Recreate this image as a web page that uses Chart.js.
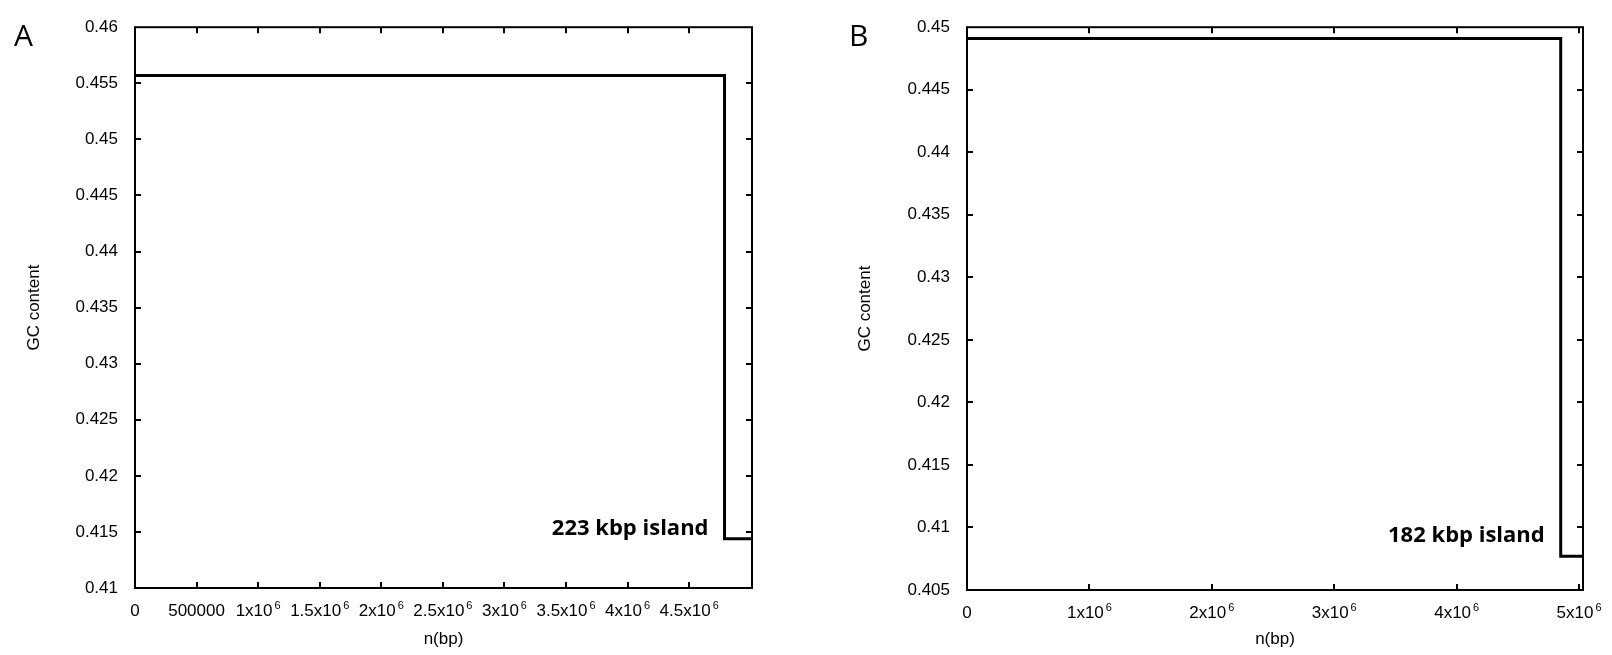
<!DOCTYPE html>
<html>
<head>
<meta charset="utf-8">
<script src="https://cdn.jsdelivr.net/npm/chart.js@4/dist/chart.umd.min.js"></script>
<style>
  body{margin:0;background:#fff;}
  #wrap{position:relative;width:1612px;height:655px;overflow:hidden;}
  canvas{position:absolute;top:0;}
  .panel{position:absolute;font-family:"Open Sans",sans-serif;font-size:30px;color:#000;line-height:1;}
</style>
</head>
<body>
<div id="wrap">
  <canvas id="chartA" width="806" height="655" style="left:0"></canvas>
  <canvas id="chartB" width="806" height="655" style="left:806px"></canvas>
  <div class="panel" style="left:14px;top:20px">A</div>
  <div class="panel" style="left:849px;top:20px">B</div>
</div>
<script>
// panel A - genome position (bp) where each GC level starts, last entry = genome end
const posA = [0, 4787000, 5010000];
const gcA = [0.4557, 0.4144, 0.4144];
const xTicksA = [0, 500000, 1000000, 1500000, 2000000, 2500000, 3000000, 3500000, 4000000, 4500000];
const xLabelsA = ['0', '500000', '1x10^6', '1.5x10^6', '2x10^6', '2.5x10^6', '3x10^6', '3.5x10^6', '4x10^6', '4.5x10^6'];
const yTicksA = [0.41, 0.415, 0.42, 0.425, 0.43, 0.435, 0.44, 0.445, 0.45, 0.455, 0.46];
const yLabelsA = ['0.41', '0.415', '0.42', '0.425', '0.43', '0.435', '0.44', '0.445', '0.45', '0.455', '0.46'];
const islandA = {text: '223 kbp island', x: 4787000, y: 0.4153};

// panel B
const posB = [0, 4850000, 5032000];
const gcB = [0.4491, 0.4077, 0.4077];
const xTicksB = [0, 1000000, 2000000, 3000000, 4000000, 5000000];
const xLabelsB = ['0', '1x10^6', '2x10^6', '3x10^6', '4x10^6', '5x10^6'];
const yTicksB = [0.405, 0.41, 0.415, 0.42, 0.425, 0.43, 0.435, 0.44, 0.445, 0.45];
const yLabelsB = ['0.405', '0.41', '0.415', '0.42', '0.425', '0.43', '0.435', '0.44', '0.445', '0.45'];
const islandB = {text: '182 kbp island', x: 4850000, y: 0.4093};

const FONT = '"Liberation Sans", Arial, sans-serif';
const tickFont = {family: FONT, size: 17};
const titleFont = {family: FONT, size: 17};

// box around the plot, inward ticks on all four sides, x labels with superscript, island label
const frameTicks = {
  id: 'frameTicks',
  afterDatasetsDraw(chart, args, opts){
    const {ctx, chartArea: a, scales: {x, y}} = chart;
    const len = 6;
    ctx.save();
    ctx.strokeStyle = '#000';
    ctx.lineWidth = 2;
    ctx.beginPath();
    x.ticks.forEach(t => {
      const px = Math.round(x.getPixelForValue(t.value));
      if(px <= a.left + 1 || px >= a.right - 1) return;
      ctx.moveTo(px, a.bottom); ctx.lineTo(px, a.bottom - len);
      ctx.moveTo(px, a.top); ctx.lineTo(px, a.top + len);
    });
    y.ticks.forEach(t => {
      const py = Math.round(y.getPixelForValue(t.value));
      if(py <= a.top + 1 || py >= a.bottom - 1) return;
      ctx.moveTo(a.left, py); ctx.lineTo(a.left + len, py);
      ctx.moveTo(a.right, py); ctx.lineTo(a.right - len, py);
    });
    ctx.stroke();
    ctx.strokeRect(a.left, a.top, a.right - a.left, a.bottom - a.top);

    // x tick labels, "1x10^6" -> 1x10 with raised 6
    ctx.fillStyle = '#000';
    ctx.textBaseline = 'alphabetic';
    ctx.textAlign = 'left';
    x.ticks.forEach((t, i) => {
      const [base, exp] = opts.xLabels[i].split('^');
      ctx.font = '17px ' + FONT;
      const wb = ctx.measureText(base).width;
      let we = 0;
      if(exp){ ctx.font = '11px ' + FONT; we = ctx.measureText(exp).width + 2; }
      const x0 = x.getPixelForValue(t.value) - (wb + we) / 2;
      ctx.font = '17px ' + FONT;
      ctx.fillText(base, x0, a.bottom + 28);
      if(exp){
        ctx.font = '11px ' + FONT;
        ctx.fillText(exp, x0 + wb + 2, a.bottom + 21);
      }
    });

    if(opts.text){
      ctx.font = 'bold 22px "Open Sans", sans-serif';
      ctx.textAlign = 'right';
      ctx.textBaseline = 'middle';
      ctx.fillText(opts.text, x.getPixelForValue(opts.x) - 16, y.getPixelForValue(opts.y));
    }
    ctx.restore();
  }
};

function makeChart(el, pos, gc, xt, xl, yt, yl, island, box){
  const pts = pos.map((p, i) => ({x: p, y: gc[i]}));
  return new Chart(el, {
    type: 'line',
    data: {datasets: [{
      data: pts,
      stepped: 'before',
      borderColor: '#000',
      borderWidth: 3,
      borderJoinStyle: 'miter',
      pointRadius: 0,
      fill: false
    }]},
    options: {
      responsive: false,
      animation: false,
      devicePixelRatio: 1,
      layout: {padding: {left: 0, top: box.top, right: box.right, bottom: 0}},
      plugins: {legend: {display: false}, tooltip: {enabled: false},
                frameTicks: Object.assign({xLabels: xl}, island)},
      scales: {
        x: {
          type: 'linear',
          min: 0,
          max: pos[pos.length - 1],
          afterBuildTicks: s => { s.ticks = xt.map(v => ({value: v})); },
          afterFit: s => { s.height = box.xh; },
          grid: {display: false, drawTicks: false},
          border: {display: false},
          ticks: {display: false},
          title: {display: true, text: 'n(bp)', font: titleFont, color: '#000', padding: {top: 0, bottom: 5}}
        },
        y: {
          type: 'linear',
          min: yt[0],
          max: yt[yt.length - 1],
          afterBuildTicks: s => { s.ticks = yt.map(v => ({value: v})); },
          afterFit: s => { s.width = box.yw; },
          grid: {display: false, drawTicks: false},
          border: {display: false},
          ticks: {font: tickFont, color: '#000', padding: 17, autoSkip: false,
                  callback: (v, i) => yl[i]},
          title: {display: true, text: 'GC content', font: titleFont, color: '#000', padding: {top: box.titlePad, bottom: 0}}
        }
      }
    },
    plugins: [frameTicks]
  });
}

makeChart(document.getElementById('chartA'), posA, gcA, xTicksA, xLabelsA, yTicksA, yLabelsA, islandA,
  {top: 15, right: 54, xh: 67, yw: 135, titlePad: 24});
makeChart(document.getElementById('chartB'), posB, gcB, xTicksB, xLabelsB, yTicksB, yLabelsB, islandB,
  {top: 16, right: 29, xh: 65, yw: 161, titlePad: 49});
</script>
</body>
</html>
